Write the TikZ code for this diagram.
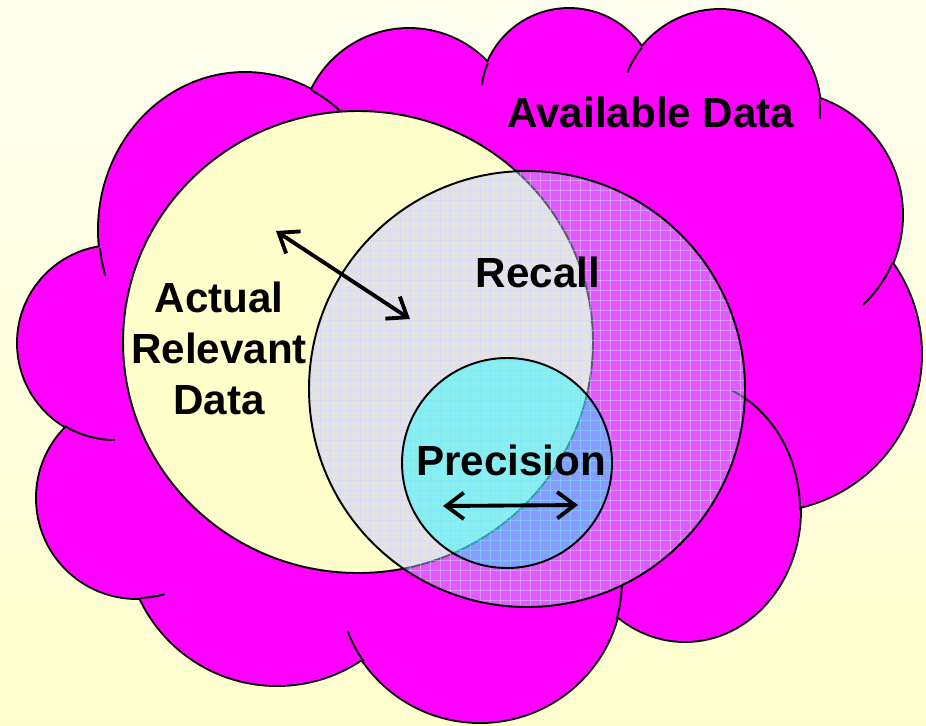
\documentclass[tikz,border=0pt]{standalone}
\usepackage{amsmath}
\usepackage{fontspec}
\setmainfont{Liberation Sans}
\usepackage{tikz}
\usetikzlibrary{arrows.meta}

\definecolor{bgtop}{RGB}{255,255,240}
\definecolor{bgbot}{RGB}{255,255,206}
\definecolor{cloudpink}{RGB}{255,0,255}
\definecolor{relyellow}{RGB}{255,255,204}
\definecolor{retlav}{RGB}{196,196,255}
\definecolor{gridlav}{RGB}{210,210,255}
\definecolor{preccyan}{RGB}{0,255,255}

\begin{document}
\begin{tikzpicture}[x=0.02cm, y=-0.02cm,
  lobe/.style={fill=cloudpink, draw=black, line width=2.2pt},
  stub/.style={draw=black, line width=1.1pt},
  ring/.style={draw=black, line width=1.1pt},
  txt/.style={font=\bfseries\fontsize{24}{29}\selectfont, align=center},
  gridline/.style={gridlav, opacity=0.5, line width=0.45pt},
  dblarrow/.style={line width=2.2pt, {Straight Barb[length=10pt,width=15pt]}-{Straight Barb[length=10pt,width=15pt]}}]

\useasboundingbox (0,0) rectangle (926,725);
\shade[top color=bgtop, bottom color=bgbot] (0,0) rectangle (926,725);


% cloud: outlines first, then the fill hides the inner half of every outline
\foreach \cx/\cy/\rx/\ry in {115/343/97/97, 245/230/146/157, 409/137/108/108,
    569/97/88/88, 720/110/100/100, 779/215/123/123, 764/354/157/157,
    685/510/115/131, 480/580/142/142, 277/534/151/151, 137/498/100/100}
  \draw[lobe] (\cx,\cy) ellipse[x radius=\rx, y radius=\ry];

\foreach \cx/\cy/\rx/\ry in {115/343/97/97, 245/230/146/157, 409/137/108/108,
    569/97/88/88, 720/110/100/100, 779/215/123/123, 764/354/157/157,
    685/510/115/131, 480/580/142/142, 277/534/151/151, 137/498/100/100}
  \fill[cloudpink] (\cx,\cy) ellipse[x radius=\rx, y radius=\ry];

\fill[cloudpink] (115,343) -- (245,230) -- (409,137) -- (569,97) -- (720,110) -- (779,215)
  -- (764,354) -- (685,510) -- (480,580) -- (277,534) -- (137,498) -- cycle;

\foreach \cx/\cy/\rx/\ry/\a/\b in {245/230/146/157/173.4/163, 245/230/146/157/297/312,
    569/97/88/88/203/188, 720/110/100/100/218.5/202, 720/110/100/100/-6/5,
    779/215/123/123/23/47, 685/510/115/131/0/-66, 480/580/142/142/16/2,
    480/580/142/142/145/159, 137/498/100/100/88/74, 115/343/97/97/121/90}
  \draw[stub] (\cx,\cy) ++(\a:{\rx} and {\ry}) arc[start angle=\a, end angle=\b, x radius=\rx, y radius=\ry];


\draw[ring, fill=relyellow] (358,342) ellipse[x radius=235, y radius=231];

\fill[retlav, fill opacity=0.46] (527,389) circle[radius=218];
\begin{scope}
  \clip (527,389) circle[radius=218];
  \foreach \g in {310,320,...,750}
    \draw[gridline] (\g,165) -- (\g,615);
  \foreach \g in {170,180,...,610}
    \draw[gridline] (305,\g) -- (750,\g);
\end{scope}
\draw[ring] (527,389) circle[radius=218];

\draw[ring, fill=preccyan, fill opacity=0.4] (507,463) circle[radius=105];


\node[txt, anchor=base] (avail) at (651,127) {Available Data};
\node[txt, anchor=base] (recall) at (538,287) {Recall};
\node[txt] (actual) at (219,348) {Actual\\Relevant\\Data};
\node[txt, anchor=base] (prec) at (511,475) {Precision};

\coordinate (r1) at (276,231);
\coordinate (r2) at (410,319);
\coordinate (p1) at (443,506);
\coordinate (p2) at (578,505);

\draw[dblarrow] (r1) -- (r2);
\draw[dblarrow] (p1) -- (p2);

\end{tikzpicture}
\end{document}
